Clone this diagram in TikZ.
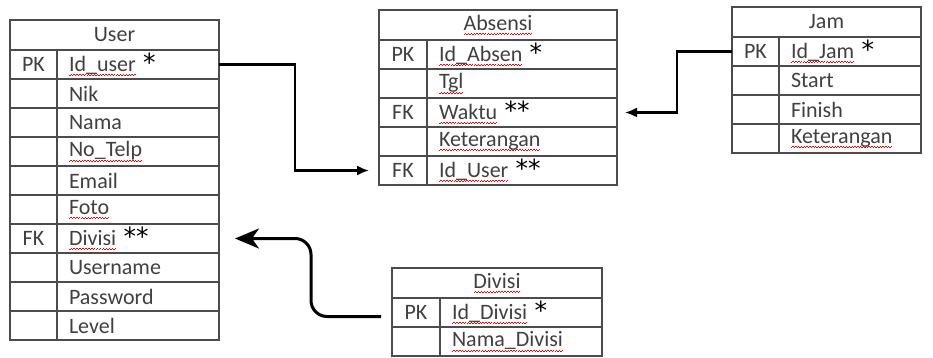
\documentclass[tikz,border=0pt]{standalone}
\usepackage{fontspec}
\setmainfont{Carlito}
\newfontfamily\starfont{DejaVu Sans}
\usetikzlibrary{calc,arrows.meta}

% red spell-check wave under a word
\newcommand\spl[1]{\setbox0\hbox{#1}\rlap{\color{red}\lower4.5pt\hbox to\wd0{\xleaders\hbox{\rule{1.4pt}{0.7pt}\rule[1.1pt]{1.4pt}{0.7pt}}\hfil}}\box0}
\newcommand\st{~{\starfont\fontsize{25}{25}\selectfont\color{black}*}}
\newcommand\stst{~{\starfont\fontsize{25}{25}\selectfont\color{black}**}}

\tikzset{
  cell/.style={draw=black!70,line width=1.4pt,anchor=north west,inner sep=0pt,
    outer sep=0pt,minimum height=29pt,text=black!75},
  head/.style={cell,minimum height=30pt},
  key/.style={cell,minimum width=#1},
  field/.style={cell,inner xsep=12pt,text width=#1,align=left},
  conn/.style={line width=2.2pt,-{Latex[length=12pt,width=10pt]}}
}

\begin{document}
\begin{tikzpicture}[x=1pt,y=-1pt,font=\fontsize{22}{25}\selectfont]
 \useasboundingbox (0,0) rectangle (933,358);

 % User
 \node[head,minimum width=209pt] (user) at (10,20) {User};
 \foreach \k/\f [count=\i] in {PK/\spl{Id\_user}\st,{}/Nik,{}/Nama,{}/\spl{No\_Telp},
   {}/Email,{}/\spl{Foto},FK/\spl{Divisi}\stst,{}/Username,{}/Password,{}/Level}{
   \node[key=47pt] (user-k\i) at (10,{50+29*(\i-1)}) {\k};
   \node[field=138pt] (user-\i) at (57,{50+29*(\i-1)}) {\f};
 }

 % Absensi
 \node[head,minimum width=238pt] (abs) at (379,10) {\spl{Absensi}};
 \foreach \k/\f [count=\i] in {PK/\spl{Id\_Absen}\st,{}/\spl{Tgl},FK/\spl{Waktu}\stst,
   {}/\spl{Keterangan},FK/\spl{Id\_User}\stst}{
   \node[key=48pt] (abs-k\i) at (379,{40+29*(\i-1)}) {\k};
   \node[field=166pt] (abs-\i) at (427,{40+29*(\i-1)}) {\f};
 }

 % Jam
 \node[head,minimum width=189pt] (jam) at (732,7) {Jam};
 \foreach \k/\f [count=\i] in {PK/\spl{Id\_Jam}\st,{}/Start,{}/Finish,{}/\spl{Keterangan}}{
   \node[key=47pt] (jam-k\i) at (732,{37+29*(\i-1)}) {\k};
   \node[field=118pt] (jam-\i) at (779,{37+29*(\i-1)}) {\f};
 }

 % Divisi
 \node[head,minimum width=210pt] (div) at (392,268) {\spl{Divisi}};
 \foreach \k/\f [count=\i] in {PK/\spl{Id\_Divisi}\st,{}/\spl{Nama\_Divisi}}{
   \node[key=48pt] (div-k\i) at (392,{298+29*(\i-1)}) {\k};
   \node[field=138pt] (div-\i) at (440,{298+29*(\i-1)}) {\f};
 }

 % relations
 \draw[conn] (user-1.east) -- ++(76,0) |- ($(abs-k5.west)+(-10,0)$);
 \draw[conn] (jam-k1.west) -- ++(-55,0) |- ($(abs-3.east)+(8,0)$);
 \draw[conn,line width=3pt,rounded corners=16pt,-{Stealth[length=24pt,width=20pt,inset=7pt]}]
   ($(div-k1.west)+(-11,4)$) -- ++(-70,0) |- ($(user-7.east)+(16,0)$);
\end{tikzpicture}
\end{document}
